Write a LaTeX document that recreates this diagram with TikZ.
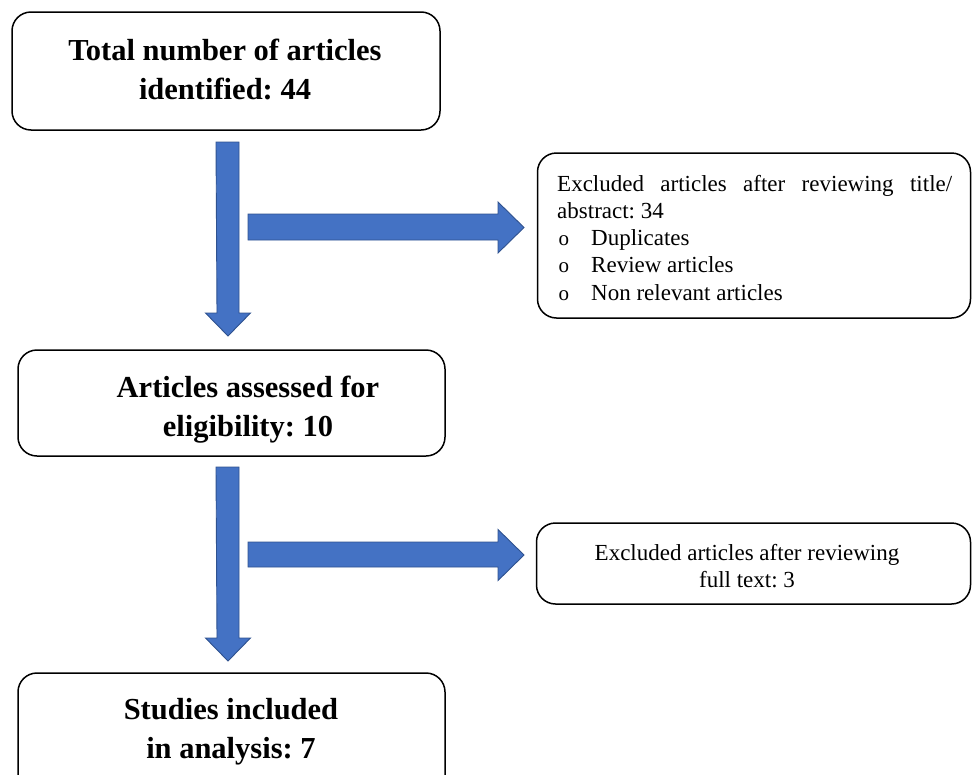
\documentclass[tikz,border=0pt]{standalone}
\usepackage{fontspec}
\setmainfont{Liberation Serif}
\definecolor{arrowfill}{HTML}{4472C4}
\definecolor{arrowline}{HTML}{2F528F}
\newcommand{\bulo}{\makebox[34pt][l]{\hspace{1.5pt}{\fontsize{21}{21}\selectfont o}}}
\begin{document}
\frenchspacing
\begin{tikzpicture}[x=1pt,y=-1pt,
  box/.style={draw=black,line width=1.5pt,rounded corners=19pt,inner sep=0pt},
  blockarrow/.style={fill=arrowfill,draw=arrowline,line width=0.9pt,line join=miter},
  bigtext/.style={font=\fontsize{30.5}{39.5}\selectfont\bfseries\frenchspacing,inner sep=0pt,anchor=base},
  smalltext/.style={font=\fontsize{23}{27.3}\selectfont\frenchspacing,inner sep=0pt,anchor=base}]
\useasboundingbox (0,0) rectangle (972,774);
\clip (0,0) rectangle (972,774);

% boxes
\node[box,minimum width=428pt,minimum height=118pt] (total) at (226,71) {};
\node[box,minimum width=433pt,minimum height=165pt] (excl1) at (754,235.5) {};
\node[box,minimum width=427pt,minimum height=106pt] (assess) at (231.5,403) {};
\node[box,minimum width=434pt,minimum height=81pt] (excl2) at (753.5,563.5) {};
\node[box,minimum width=427pt,minimum height=130pt] (incl) at (231.5,738) {};

% texts
\node[bigtext] (ttotal) at (225,60) {\begin{tabular}[t]{@{}c@{}}Total number of articles\\identified: 44\end{tabular}};
\node[bigtext] (tassess) at (248,397) {\begin{tabular}[t]{@{}c@{}}Articles assessed for\\eligibility: 10\end{tabular}};
\node[bigtext] (tincl) at (231,719) {\begin{tabular}[t]{@{}c@{}}Studies included\\in analysis: 7\end{tabular}};
\node[smalltext] (texcl2) at (747,560) {\begin{tabular}[t]{@{}c@{}}Excluded articles after reviewing\\full text: 3\end{tabular}};
\node[smalltext,anchor=base west] (texcl1) at (557,191) {\parbox[t]{395pt}{%
  \hbox to 395pt{Excluded\hfill articles\hfill after\hfill reviewing\hfill title/}%
  abstract: 34\\
  \bulo Duplicates\\
  \bulo Review articles\\
  \bulo Non relevant articles}};

% block arrows
\coordinate (d1) at (216,142);
\coordinate (d2) at (216,467);
\coordinate (r1) at (248,214);
\coordinate (r2) at (248,542);
\draw[blockarrow] (d1) -- ++(23,0) -- ++(0,171) -- ++(11.5,0) -- ++(-22.5,23) -- ++(-22.5,-23) -- ++(11.5,0) -- cycle;
\draw[blockarrow] (d2) -- ++(23,0) -- ++(0,171) -- ++(11.5,0) -- ++(-22.5,23) -- ++(-22.5,-23) -- ++(11.5,0) -- cycle;
\draw[blockarrow] (r1) -- ++(250,0) -- ++(0,-12) -- ++(26,25.5) -- ++(-26,25.5) -- ++(0,-13) -- ++(-250,0) -- cycle;
\draw[blockarrow] (r2) -- ++(250,0) -- ++(0,-12.5) -- ++(26,25.5) -- ++(-26,25.5) -- ++(0,-13.5) -- ++(-250,0) -- cycle;
\end{tikzpicture}
\end{document}
